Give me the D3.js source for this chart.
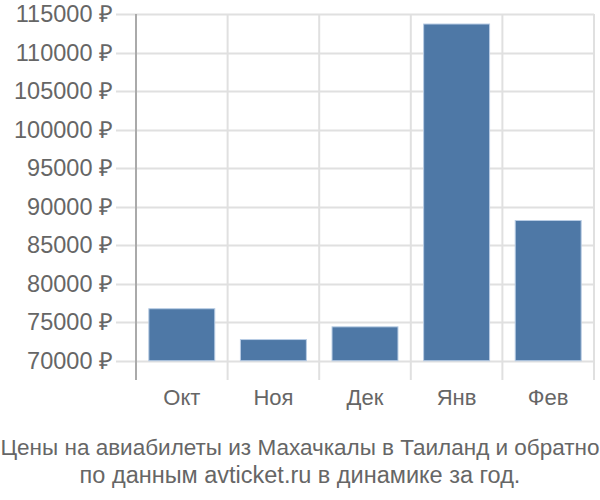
<!DOCTYPE html>
<html><head><meta charset="utf-8">
<script src="https://cdn.jsdelivr.net/npm/d3@7"></script>
<style>body{margin:0;background:#fff}svg{display:block}text{font-family:"Liberation Sans",Arial,sans-serif}</style>
</head><body><svg id="c" width="600" height="500"></svg>
<script>
const categories = ["Окт","Ноя","Дек","Янв","Фев"];
const values = [76750, 72750, 74400, 113700, 88200];
const yTicks = [70000,75000,80000,85000,90000,95000,100000,105000,110000,115000];
const titleLines = ["Цены на авиабилеты из Махачкалы в Таиланд и обратно","по данным avticket.ru в динамике за год."];

(function(){
const svg = d3.select("#c");
const pL = 136, pR = 594, pT = 14, pB = 380;
const x = d3.scaleBand().domain(categories).range([pL, pR]).paddingInner(0.28).paddingOuter(0.14);
const y = d3.scaleLinear().domain([67500, 115000]).range([pB, pT]);

// horizontal grid
svg.append("g").selectAll("line").data(yTicks).join("line")
  .attr("x1", 116).attr("x2", pR).attr("y1", d => Math.round(y(d))+0.5).attr("y2", d => Math.round(y(d))+0.5)
  .attr("stroke", "#e0e0e0").attr("stroke-width", 2);
// vertical grid
const bounds = categories.map(c => x(c) - x.step()*x.paddingInner()/2).concat([pR]);
svg.append("g").selectAll("line").data(bounds.slice(1)).join("line")
  .attr("x1", d => d).attr("x2", d => d).attr("y1", pT).attr("y2", pB)
  .attr("stroke", "#e0e0e0").attr("stroke-width", 2);
// y axis line
svg.append("line").attr("x1", pL).attr("x2", pL).attr("y1", pT).attr("y2", pB)
  .attr("stroke", "#aaa").attr("stroke-width", 2);

// bars
svg.append("g").selectAll("rect").data(values).join("rect")
  .attr("x", (d,i) => x(categories[i])).attr("width", x.bandwidth())
  .attr("y", d => y(d)).attr("height", d => y(70000) - y(d))
  .attr("fill", "#4e78a6").attr("stroke", "#b8cce4").attr("stroke-width", 1);

// y labels
svg.append("g").selectAll("text").data(yTicks).join("text")
  .attr("x", 113).attr("y", d => y(d)).attr("dy", "0.35em").attr("text-anchor", "end")
  .attr("font-size", 23.5).attr("fill", "#666").text(d => d + " ₽");
// x labels
svg.append("g").selectAll("text").data(categories).join("text")
  .attr("x", d => x(d) + x.bandwidth()/2).attr("y", 405).attr("text-anchor", "middle")
  .attr("font-size", 22).attr("fill", "#666").text(d => d);
// title
svg.append("g").selectAll("text").data(titleLines).join("text")
  .attr("x", 300).attr("y", (d,i) => 455 + i*28).attr("text-anchor", "middle")
  .attr("font-size", (d,i) => i === 0 ? 22.5 : 23.5).attr("fill", "#666").text(d => d);
})();
</script></body></html>
